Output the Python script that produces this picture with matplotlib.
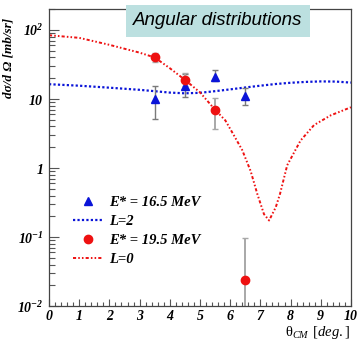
import matplotlib
matplotlib.use("Agg")
import matplotlib.pyplot as plt
from matplotlib.lines import Line2D
from matplotlib.ticker import FixedLocator, LogLocator, NullFormatter, MultipleLocator

plt.rcParams["mathtext.fontset"] = "custom"
plt.rcParams["mathtext.rm"] = "Liberation Serif"
plt.rcParams["mathtext.it"] = "Liberation Serif:italic"
plt.rcParams["mathtext.bf"] = "Liberation Serif:bold:italic"

# data points (theta in deg, dsigma/dOmega in mb/sr)
theta_165 = [3.5, 4.5, 5.5, 6.5]
xs_165 = [10.0, 15.3, 21.0, 11.0]
err_lo_165 = [4.8, 4.6, 3.0, 2.8]
err_hi_165 = [5.3, 7.5, 5.0, 3.4]

theta_195 = [3.5, 4.5, 5.5, 6.5]
xs_195 = [40.0, 18.7, 7.0, 0.024]
err_lo_195 = [6.0, 3.0, 3.3, 0.0195]
err_hi_195 = [7.0, 4.9, 3.3, 0.074]

# model curves
theta_L2 = [0, 1, 2, 3, 4, 4.5, 5, 5.5, 6, 6.5, 7, 7.5, 8, 8.5, 9, 9.5, 10]
xs_L2 = [16.4, 15.6, 14.6, 13.6, 12.4, 12.1, 12.3, 13.0, 13.8, 14.7, 15.6, 16.5, 17.2, 17.7, 18.0, 17.9, 17.3]

theta_L0 = [0, 1, 2, 3, 3.5, 4, 4.5, 5, 5.5, 5.84, 6.12, 6.4, 6.68, 6.9, 7.12, 7.29,
            7.51, 7.65, 7.89, 8.33, 8.78, 9.33, 10]
xs_L0 = [84, 77, 61, 47, 40, 28, 19, 12.5, 7, 4.9, 3.0, 1.82, 0.90, 0.42, 0.215, 0.174,
         0.27, 0.42, 1.1, 2.5, 4.2, 5.8, 7.6]

blue = "#0a14d8"
red = "#ee1111"
l2_style = (0, (1, 1))
l0_style = (0, (1.6, 1.1, 0.8, 1.1, 0.8, 1.1))

fig = plt.figure(figsize=(3.59, 3.42), dpi=100)
ax = fig.add_axes([0.1365, 0.105, 0.841, 0.868])

ax.plot(theta_L2, xs_L2, color=blue, lw=1.6, linestyle=l2_style)
ax.plot(theta_L0, xs_L0, color=red, lw=1.4, linestyle=l0_style)

ax.errorbar(theta_165, xs_165, yerr=[err_lo_165, err_hi_165], fmt="none",
            ecolor="#7a7a7a", elinewidth=1.0, capsize=2)
ax.errorbar(theta_195, xs_195, yerr=[err_lo_195, err_hi_195], fmt="none",
            ecolor="#a8a8a8", elinewidth=1.4, capsize=2)
ax.plot(theta_165, xs_165, "^", color=blue, ms=6, mec=blue)
ax.plot(theta_195, xs_195, "o", color=red, ms=6, mec=red)

ax.set_yscale("log")
ax.set_xlim(0, 10)
ax.set_ylim(0.01, 200)

ax.xaxis.set_major_locator(MultipleLocator(1))
ax.xaxis.set_minor_locator(MultipleLocator(0.2))
ax.yaxis.set_major_locator(FixedLocator([0.01, 0.1, 1, 10, 100]))
ax.yaxis.set_minor_locator(LogLocator(base=10, subs=range(2, 10)))
ax.yaxis.set_minor_formatter(NullFormatter())

tick_font = dict(family="Liberation Serif", weight="bold", style="italic", size=10)
ax.set_xticks(range(11))
ax.set_xticklabels([str(i) for i in range(11)], **tick_font)
ax.set_yticks([0.01, 0.1, 1, 10, 100])
ax.set_yticklabels([r"$\mathbf{10^{-2}}$", r"$\mathbf{10^{-1}}$", r"$\mathbf{1}$",
                    r"$\mathbf{10}$", r"$\mathbf{10^{2}}$"], fontsize=10)

ax.tick_params(axis="x", which="major", direction="in", length=5, width=0.8,
               color="#555555", pad=3)
ax.tick_params(axis="x", which="minor", direction="in", length=3, width=0.8, color="#555555")
ax.tick_params(axis="y", which="major", direction="in", length=7, width=0.8,
               color="#555555", pad=4)
ax.tick_params(axis="y", which="minor", direction="in", length=4, width=0.8, color="#555555")
for s in ax.spines.values():
    s.set_color("#444444")
    s.set_linewidth(0.9)

ax.set_ylabel("dσ/d Ω [mb/sr]", family=["Liberation Serif", "DejaVu Serif"], weight="bold",
              style="italic", fontsize=9.5)
ax.yaxis.set_label_coords(-0.115, 0.835)

fig.text(0.975, 0.018, r"$\mathrm{\theta}_{\mathit{CM}}$ $\mathit{[deg.]}$",
         ha="right", va="baseline", fontsize=10.5)

handles = [
    Line2D([], [], marker="^", color=blue, linestyle="none", ms=6),
    Line2D([], [], color=blue, lw=1.6, linestyle=l2_style),
    Line2D([], [], marker="o", color=red, linestyle="none", ms=6),
    Line2D([], [], color=red, lw=1.4, linestyle=l0_style),
]
labels = ["E* = 16.5 MeV", "L=2", "E* = 19.5 MeV", "L=0"]
ax.legend(handles, labels, loc="upper left", bbox_to_anchor=(0.035, 0.415),
          frameon=False, handlelength=2.1, handletextpad=0.4, labelspacing=0.4,
          prop=dict(family="Liberation Serif", weight="bold", style="italic", size=10.5))

fig.text(0.607, 0.939, "Angular distributions", ha="center", va="center",
         family="Liberation Sans", style="italic", fontsize=13.5,
         bbox=dict(boxstyle="square,pad=0.4", facecolor="#bce0e0", edgecolor="none"))

fig.savefig("out.png", dpi=100)
